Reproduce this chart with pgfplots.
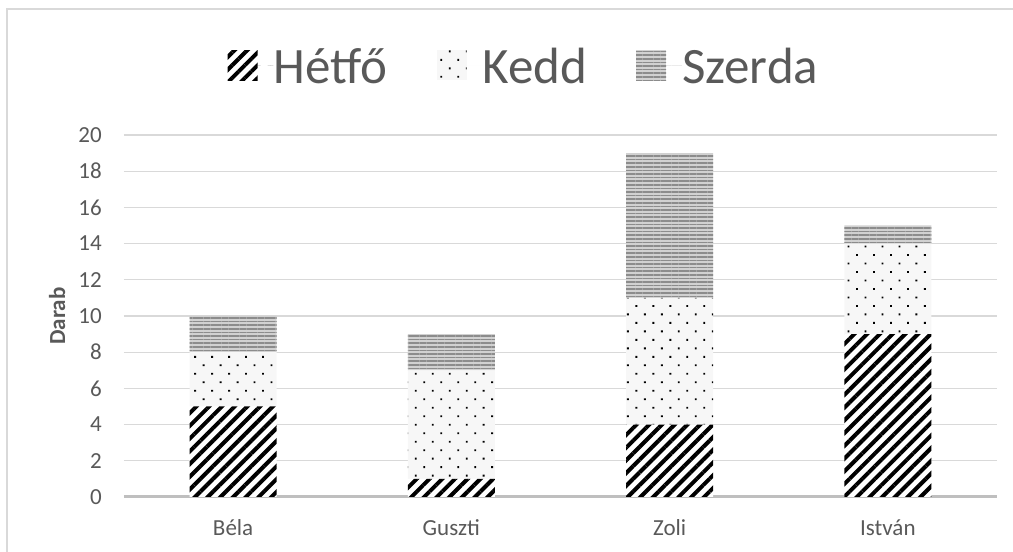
\documentclass[border=0pt]{standalone}
\usepackage{fontspec}
\setmainfont{Carlito}
\usepackage{pgfplots}
\pgfplotsset{compat=1.18}
\usetikzlibrary{patterns.meta}
\definecolor{txt}{HTML}{595959}
\definecolor{grd}{HTML}{D9D9D9}
\definecolor{axl}{HTML}{BFBFBF}
\pgfplotsset{myleg/.style={legend image code/.code={\path[##1] (0pt,-15pt) rectangle (30pt,15pt);\path (30pt,0pt) -- (46pt,0pt);}}}
\begin{document}
\begin{tikzpicture}[x=1pt,y=1pt]
\useasboundingbox (0,0) rectangle (1013,552);
\draw[grd, line width=1.5pt] (7,-10) rectangle (1030,543);
\begin{axis}[
 at={(124pt,55pt)}, anchor=south west,
 scale only axis, width=873pt, height=362pt,
 ybar stacked, bar width=87pt,
 xmin=-0.5, xmax=3.5, ymin=0, ymax=20,
 xtick={0,1,2,3}, xticklabels={Béla,Guszti,Zoli,István},
 ytick={0,2,...,20},
 axis line style={draw=none},
 major tick length=0pt,
 ymajorgrids, grid style={grd, line width=1.3pt},
 extra y ticks={0}, extra y tick labels={},
 extra y tick style={grid style={axl, line width=3pt}},
 tick label style={font=\fontsize{23}{27}\selectfont, text=txt},
 /pgf/number format/assume math mode=true,
 yticklabel style={inner sep=0pt, xshift=-22pt},
 xticklabel style={inner sep=0pt, anchor=base, yshift=-38pt},
 ylabel={Darab},
 ylabel style={font=\bfseries\fontsize{23}{27}\selectfont, text=txt, at={(axis description cs:-0.0767,0.5)}, anchor=center},
 legend columns=-1,
 legend style={at={(0.457,1.193)}, anchor=center, draw=none, fill=none,
   font=\fontsize{51}{60}\selectfont, text=txt,
   nodes={inner sep=0pt, text height=46pt, text depth=10pt},
   /tikz/every even column/.append style={column sep=49pt}},
]
\addplot[myleg, fill=white, draw=none, postaction={pattern={Lines[angle=45,distance=9pt,line width=4pt]}, pattern color=black}]
 coordinates {(0,5) (1,1) (2,4) (3,9)};
\addplot[myleg, fill=black!3, draw=none, postaction={pattern={Dots[angle=45,distance=12pt,radius=1.3pt]}, pattern color=black}]
 coordinates {(0,3) (1,6) (2,7) (3,5)};
\addplot[myleg, fill=black!18, draw=none, postaction={pattern={Lines[angle=0,distance=3.6pt,line width=1.5pt]}, pattern color=black!45}]
 coordinates {(0,2) (1,2) (2,8) (3,1)};
\legend{Hétfő,Kedd,Szerda}
\end{axis}
\end{tikzpicture}
\end{document}
